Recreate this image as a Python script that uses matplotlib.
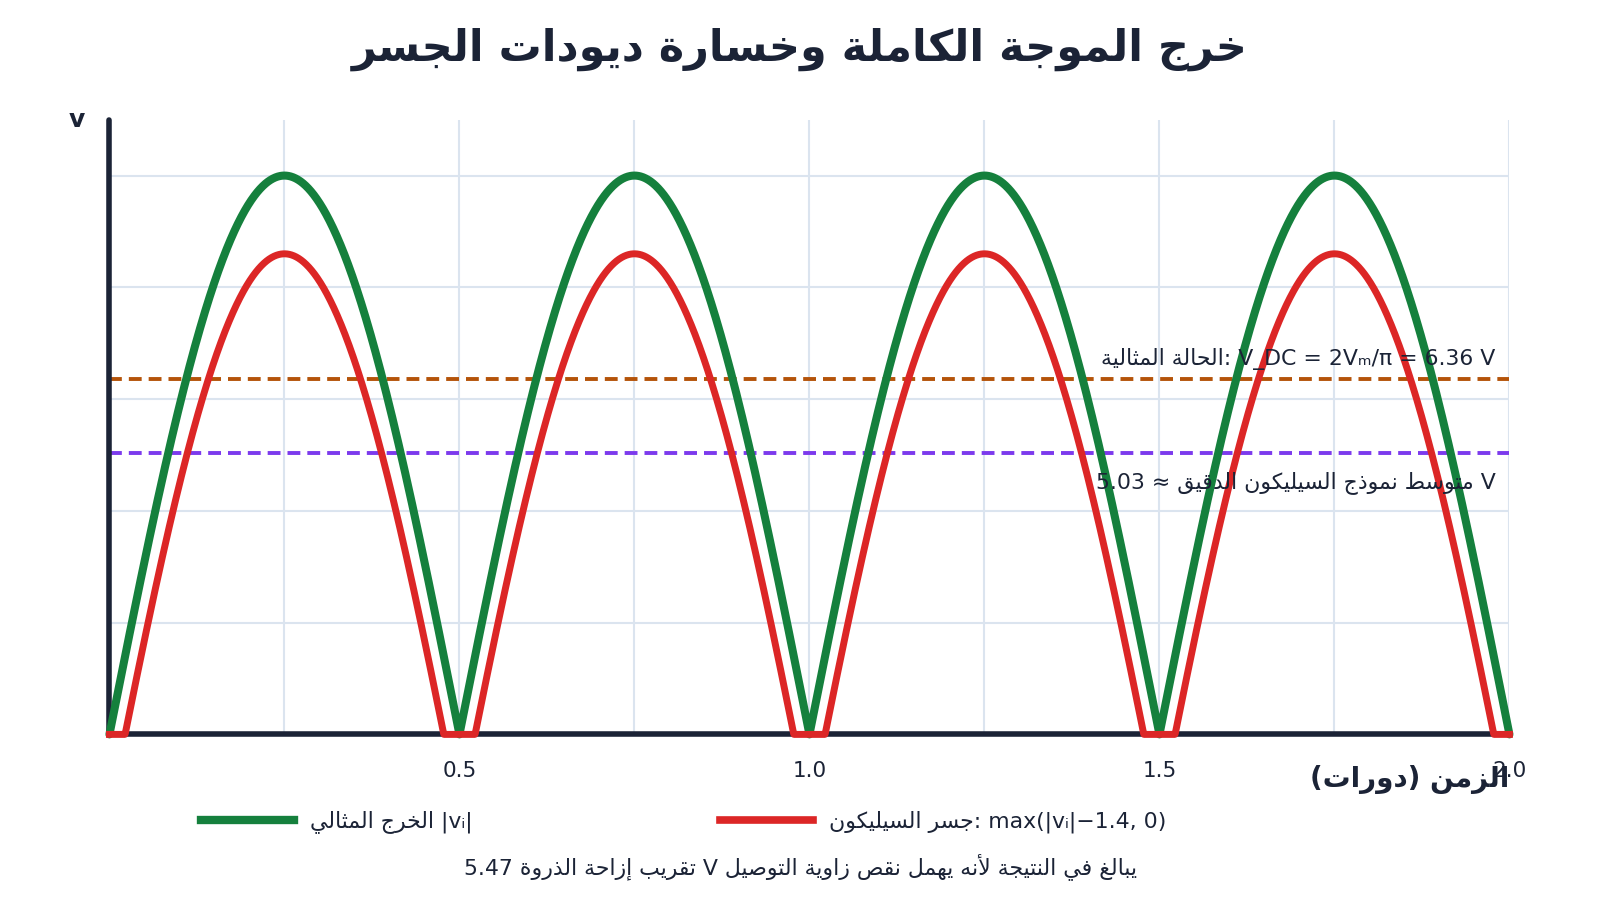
#!/usr/bin/env python3
'''Full-wave bridge output, ideal vs silicon diodes'''
import numpy as np
import matplotlib
matplotlib.use('Agg')
import matplotlib.pyplot as plt
from matplotlib.lines import Line2D

# values
CYCLES = 2.0          # time axis spans two input cycles
V_PEAK = 10.0         # V_m, since 2V_m/pi = 6.36
DIODE_DROP = 1.4      # two silicon diodes in the bridge
V_DC_IDEAL = 6.36
V_AVG_SILICON = 5.03
X_TICKS = [0.25, 0.5, 0.75, 1.0, 1.25, 1.5, 1.75, 2.0]
X_TICK_LABELS = ['', '0.5', '', '1.0', '', '1.5', '', '2.0']
Y_GRID = [2, 4, 6, 8, 10]

TITLE = 'خرج الموجة الكاملة وخسارة ديودات الجسر'
X_LABEL = 'الزمن (دورات)'
Y_LABEL = 'v'
LABEL_IDEAL = 'الخرج المثالي |vᵢ|'
LABEL_SILICON = 'جسر السيليكون: max(|vᵢ|−1.4, 0)'
NOTE_IDEAL = 'الحالة المثالية: V_DC = 2Vₘ/π = 6.36 V'
NOTE_SILICON = 'متوسط نموذج السيليكون الدقيق ≈ 5.03 V'
FOOTNOTE = 'تقريب إزاحة الذروة 5.47 V يبالغ في النتيجة لأنه يهمل نقص زاوية التوصيل'

INK = '#1b2336'
GREEN = '#15803d'
RED = '#dc2626'
ORANGE = '#b45309'
PURPLE = '#7c3aed'
GRID = '#dbe4ef'
TEXT_SIZE = 15.8

# --- tiny arabic shaper + bidi (matplotlib does no text shaping) ---
FORMS = {'ء': (0xFE80, 1)}
for ch, start in zip('آأؤإاةدذرزوى',
                     [0xFE81, 0xFE83, 0xFE85, 0xFE87, 0xFE8D, 0xFE93, 0xFEA9,
                      0xFEAB, 0xFEAD, 0xFEAF, 0xFEED, 0xFEEF]):
    FORMS[ch] = (start, 2)
for ch, start in zip('ئبتثجحخسشصضطظعغفقكلمنهي',
                     [0xFE89, 0xFE8F, 0xFE95, 0xFE99, 0xFE9D, 0xFEA1, 0xFEA5,
                      0xFEB1, 0xFEB5, 0xFEB9, 0xFEBD, 0xFEC1, 0xFEC5, 0xFEC9,
                      0xFECD, 0xFED1, 0xFED5, 0xFED9, 0xFEDD, 0xFEE1, 0xFEE5,
                      0xFEE9, 0xFEF1]):
    FORMS[ch] = (start, 4)
LAM_ALEF = {'آ': 0xFEF5, 'أ': 0xFEF7, 'إ': 0xFEF9, 'ا': 0xFEFB}
MIRROR = {'(': ')', ')': '(', '[': ']', ']': '['}


def joins_left(c):
    return c in FORMS and FORMS[c][1] == 4


def shape(s):
    out = []
    i = 0
    while i < len(s):
        c = s[i]
        if c not in FORMS:
            out.append(c)
            i += 1
            continue
        prev = i > 0 and joins_left(s[i - 1])
        if c == 'ل' and i + 1 < len(s) and s[i + 1] in LAM_ALEF:
            out.append(chr(LAM_ALEF[s[i + 1]] + (1 if prev else 0)))
            i += 2
            continue
        nxt = (joins_left(c) and i + 1 < len(s) and s[i + 1] in FORMS
               and FORMS[s[i + 1]][1] >= 2)
        base, n = FORMS[c]
        if n == 1:
            off = 0
        elif prev and nxt:
            off = 3
        elif prev:
            off = 1
        elif nxt:
            off = 2
        else:
            off = 0
        out.append(chr(base + off))
        i += 1
    return ''.join(out)


def bidi_class(c):
    o = ord(c)
    if 0x0600 <= o <= 0x06FF or 0xFB50 <= o <= 0xFEFF:
        return 'R'
    if c.isdigit():
        return 'EN'
    if c.isalpha():
        return 'L'
    return 'N'


def visual(s):
    s = shape(s)
    n = len(s)
    t = [bidi_class(c) for c in s]
    last = 'L'
    for i, c in enumerate(t):
        if c in ('L', 'R'):
            last = c
        elif c == 'EN' and last == 'R':
            t[i] = 'AN'
    for i in range(1, n - 1):
        if s[i] in '.,' and t[i - 1] == t[i + 1] and t[i - 1] in ('EN', 'AN'):
            t[i] = t[i - 1]
    t = ['L' if c == 'EN' else c for c in t]
    stack = []
    for i, c in enumerate(s):
        if c == '(':
            stack.append(i)
        elif c == ')' and stack:
            j = stack.pop()
            inner = t[j + 1:i]
            if 'L' in inner:
                d = 'L'
            elif 'R' in inner or 'AN' in inner:
                before = [x for x in t[:j] if x != 'N']
                d = 'R' if before and before[-1] in ('R', 'AN') else 'L'
            else:
                continue
            t[j] = t[i] = d
    i = 0
    while i < n:
        if t[i] == 'N':
            j = i
            while j < n and t[j] == 'N':
                j += 1
            a = 'L' if i == 0 else ('R' if t[i - 1] in ('R', 'AN') else 'L')
            b = 'L' if j == n else ('R' if t[j] in ('R', 'AN') else 'L')
            for k in range(i, j):
                t[k] = a if a == b else 'L'
            i = j
        else:
            i += 1
    levels = [0 if c == 'L' else 1 if c == 'R' else 2 for c in t]
    chars = [MIRROR.get(c, c) if lv % 2 else c for c, lv in zip(s, levels)]
    idx = list(range(n))
    for lv in range(max(levels, default=0), 0, -1):
        i = 0
        while i < n:
            if levels[idx[i]] >= lv:
                j = i
                while j < n and levels[idx[j]] >= lv:
                    j += 1
                idx[i:j] = idx[i:j][::-1]
                i = j
            else:
                i += 1
    return ''.join(chars[k] for k in idx)


plt.rcParams['font.family'] = ['DejaVu Sans']

t = np.linspace(0, CYCLES, 4001)
v_ideal = np.abs(V_PEAK * np.sin(2 * np.pi * t))
v_si = np.maximum(v_ideal - DIODE_DROP, 0)

fig = plt.figure(figsize=(16, 9), dpi=100)
ax = fig.add_axes([0.0684, 0.184, 0.875, 0.683])

ax.plot(t, v_ideal, color=GREEN, lw=5.8, zorder=4, clip_on=False,
        solid_capstyle='round')
ax.plot(t, v_si, color=RED, lw=5.0, zorder=5, clip_on=False)
ax.axhline(V_DC_IDEAL, color=ORANGE, lw=2.8, dashes=(3.3, 1.8), zorder=3)
ax.axhline(V_AVG_SILICON, color=PURPLE, lw=2.8, dashes=(3.3, 1.8), zorder=3)

ax.annotate(visual(NOTE_IDEAL), xy=(CYCLES, V_DC_IDEAL), xytext=(-10, 10),
            textcoords='offset points', ha='right', va='baseline',
            fontsize=TEXT_SIZE, color=INK, zorder=6)
ax.annotate(visual(NOTE_SILICON), xy=(CYCLES, V_AVG_SILICON), xytext=(-10, -25),
            textcoords='offset points', ha='right', va='baseline',
            fontsize=TEXT_SIZE, color=INK, zorder=6)

ax.set_xlim(0, CYCLES)
ax.set_ylim(0, 11)
ax.set_xticks(X_TICKS)
ax.set_xticklabels(X_TICK_LABELS)
ax.set_yticks(Y_GRID)
ax.set_yticklabels([])
ax.tick_params(axis='both', length=0)
ax.tick_params(axis='x', pad=19, labelsize=15.5, labelcolor=INK)
ax.grid(True, color=GRID, lw=1.5, zorder=0)
ax.set_axisbelow(True)
for side in ('top', 'right'):
    ax.spines[side].set_visible(False)
for side in ('left', 'bottom'):
    ax.spines[side].set_color(INK)
    ax.spines[side].set_linewidth(4)
    ax.spines[side].set_capstyle('round')
    ax.spines[side].set_zorder(3.5)

fig.text(0.5, 1 - 49 / 900, visual(TITLE), ha='center', va='center',
         fontsize=31, fontweight='bold', color=INK)
fig.text(77 / 1600, 1 - 120 / 900, Y_LABEL, ha='center', va='center',
         fontsize=18, fontweight='bold', color=INK)
fig.text(1509 / 1600, 1 - 780 / 900, visual(X_LABEL), ha='right', va='center',
         fontsize=20, fontweight='bold', color=INK)

h_ideal = Line2D([], [], color=GREEN, lw=6)
h_si = Line2D([], [], color=RED, lw=5.5)
for h, lab, x0 in [(h_ideal, LABEL_IDEAL, 201), (h_si, LABEL_SILICON, 720)]:
    fig.legend(handles=[h], labels=[visual(lab)], loc='center left',
               bbox_to_anchor=(x0 / 1600, 1 - 822 / 900), frameon=False,
               fontsize=TEXT_SIZE, labelcolor=INK, handlelength=4.25,
               handletextpad=0.7, borderpad=0, borderaxespad=0)

fig.text(0.5, 1 - 874 / 900, visual(FOOTNOTE), ha='center', va='baseline',
         fontsize=TEXT_SIZE, color=INK)

fig.savefig('out.png', dpi=100)
